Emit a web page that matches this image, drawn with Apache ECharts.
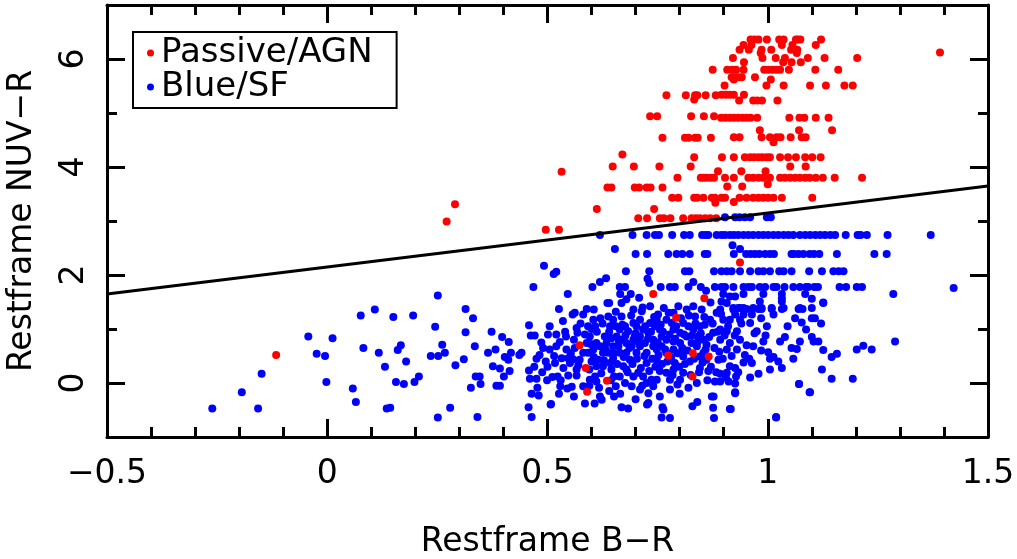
<!DOCTYPE html>
<html>
<head>
<meta charset="utf-8">
<script src="https://cdn.jsdelivr.net/npm/echarts@6/dist/echarts.min.js"></script>
<style>
  html, body { margin: 0; padding: 0; background: #fff; }
  #root { width: 1017px; height: 559px; }
</style>
</head>
<body>
<div id="root"></div>
<script>
// red points above the colour cut
const passive = [
  [0.875,5.80],[0.770,5.33],[0.814,5.33],[0.835,5.33],[0.840,5.33],[0.859,5.33],[0.882,5.33],[0.833,5.25],
  [0.733,4.94],[0.749,4.94],[0.826,4.94],[0.855,4.94],[0.878,4.94],
  [0.761,4.54],[0.812,4.54],[0.820,4.54],[0.835,4.54],[0.841,4.54],[0.871,4.54],
  [0.670,4.23],[0.833,4.18],[0.648,4.01],[0.696,4.01],[0.754,4.01],[0.825,4.01],[0.887,3.92],
  [0.532,3.91],[0.795,3.80],[0.848,3.80],[0.854,3.80],[0.861,3.80],[0.870,3.80],[0.878,3.80],
  [0.636,3.62],[0.645,3.62],[0.698,3.62],[0.708,3.62],[0.725,3.62],[0.734,3.62],[0.761,3.62],
  [0.783,3.43],[0.797,3.43],[0.833,3.43],[0.840,3.43],[0.854,3.43],[0.873,3.43],[0.880,3.43],[0.881,3.34],
  [0.290,3.31],[0.271,2.99],[0.612,3.22],[0.742,3.22],
  [0.706,3.05],[0.726,3.05],[0.755,3.05],[0.764,3.05],[0.779,3.05],[0.808,3.05],[0.827,3.05],[0.837,3.05],
  [0.846,3.05],[0.858,3.05],[0.869,3.05],[0.883,3.05],[0.496,2.84],[0.526,2.84],
  [0.961,6.36],[0.970,6.36],[0.979,6.36],[0.998,6.36],[1.026,6.36],[1.036,6.36],[1.064,6.36],[1.068,6.36],[1.074,6.36],[1.121,6.36],
  [0.945,6.26],[0.963,6.26],[1.032,6.26],[1.056,6.26],[1.109,6.26],
  [0.936,6.17],[0.957,6.17],[0.986,6.17],[1.008,6.17],[1.053,6.17],[1.067,6.17],
  [0.984,6.11],[1.066,6.11],[1.391,6.12],
  [0.921,6.02],[0.988,6.02],[1.018,6.02],[1.039,6.02],[1.091,6.02],[1.129,6.02],[1.203,6.02],
  [0.946,5.94],[1.035,5.94],[1.054,5.94],[1.075,5.94],
  [0.908,5.80],[0.919,5.80],[0.928,5.80],[0.945,5.80],[0.992,5.80],[1.001,5.80],[1.011,5.80],[1.020,5.80],
  [1.028,5.80],[1.048,5.80],[1.108,5.80],[1.160,5.80],
  [0.918,5.66],[0.926,5.66],[0.933,5.66],[0.941,5.66],[0.971,5.66],[0.923,5.62],[1.007,5.62],
  [0.902,5.51],[0.997,5.51],[1.036,5.51],[1.096,5.51],[1.132,5.51],[1.174,5.51],[1.193,5.51],
  [0.895,5.34],[0.905,5.34],[0.914,5.34],[0.923,5.34],[0.946,5.34],
  [0.935,5.23],[0.967,5.23],[0.976,5.23],[0.987,5.23],[1.022,5.23],
  [0.894,4.91],[0.904,4.91],[0.914,4.91],[0.923,4.91],[0.933,4.91],[0.943,4.91],[0.952,4.91],[0.961,4.91],
  [0.976,4.91],[1.049,4.91],[1.072,4.91],[1.083,4.91],[1.109,4.91],[1.138,4.91],
  [0.982,4.68],[1.071,4.68],[1.146,4.68],
  [0.923,4.55],[0.936,4.55],[0.986,4.55],[1.005,4.55],[1.020,4.55],[1.029,4.55],[1.052,4.55],[1.077,4.55],[1.086,4.55],[1.013,4.46],
  [0.896,4.18],[0.923,4.18],[0.948,4.18],[0.960,4.18],[0.969,4.18],[0.979,4.18],[0.988,4.18],[0.998,4.18],
  [1.005,4.18],[1.028,4.18],[1.046,4.18],[1.064,4.18],[1.085,4.18],[1.101,4.18],[1.120,4.18],
  [1.051,4.01],[1.086,4.01],[0.940,3.92],[0.995,3.92],
  [0.903,3.80],[0.923,3.80],[0.956,3.80],[0.967,3.80],[0.979,3.80],[0.990,3.80],[1.005,3.80],[1.028,3.80],
  [1.039,3.80],[1.051,3.80],[1.062,3.80],[1.073,3.80],[1.085,3.80],[1.095,3.80],[1.109,3.80],[1.125,3.80],[1.152,3.80],[1.214,3.80],
  [1.000,3.68],[0.908,3.64],[0.942,3.64],
  [0.895,3.43],[0.903,3.43],[0.936,3.43],[0.952,3.43],[0.967,3.43],[0.979,3.43],[0.990,3.43],[1.001,3.43],
  [1.013,3.43],[1.032,3.43],[1.101,3.43],[0.923,3.35],
  [0.937,2.23],[0.740,1.65],[0.856,1.57],[0.792,1.21],[0.573,0.70],[0.587,0.28],[0.590,-0.16],
  [0.635,0.04],[0.774,0.51],[0.830,0.55],[0.866,0.49],[0.829,0.12],[-0.116,0.52]
];

// blue points: quantised rows near the cut
const blueRows = [
  [0.903,3.07],[0.926,3.07],[0.936,3.07],[0.948,3.07],[0.960,3.07],[0.998,3.07],[1.007,3.07],
  [0.619,2.74],[0.693,2.74],[0.725,2.74],[0.744,2.74],[0.753,2.74],[0.783,2.74],[0.810,2.74],[0.823,2.74],
  [0.851,2.74],[0.859,2.74],[0.865,2.74],[0.884,2.74],[0.895,2.74],[0.903,2.74],[0.914,2.74],[0.923,2.74],
  [0.933,2.74],[0.945,2.74],[0.956,2.74],[0.967,2.74],[0.979,2.74],[0.990,2.74],[1.001,2.74],[1.013,2.74],
  [1.024,2.74],[1.036,2.74],[1.047,2.74],[1.058,2.74],[1.073,2.74],[1.085,2.74],[1.096,2.74],[1.108,2.74],
  [1.119,2.74],[1.130,2.74],[1.142,2.74],[1.153,2.74],[1.177,2.74],[1.204,2.74],[1.211,2.74],[1.225,2.74],
  [1.272,2.74],[1.370,2.74],
  [0.920,2.55],[0.937,2.48],[0.653,2.48],
  [0.700,2.39],[0.726,2.39],[0.774,2.39],[0.793,2.39],[0.806,2.39],[0.823,2.39],[0.857,2.39],[0.863,2.39],
  [0.923,2.39],[0.951,2.39],[0.961,2.39],[0.971,2.39],[0.981,2.39],[0.994,2.39],[1.005,2.39],[1.014,2.39],
  [1.054,2.39],[1.060,2.39],[1.070,2.39],[1.081,2.39],[1.095,2.39],[1.105,2.39],[1.117,2.39],[1.157,2.39],
  [1.242,2.39],[1.270,2.39],
  [0.492,2.17],[0.514,2.02],[0.520,2.06],
  [0.678,2.07],[0.731,2.07],[0.812,2.07],[0.822,2.07],[0.878,2.07],[0.895,2.07],[0.907,2.07],[0.918,2.07],
  [0.937,2.07],[0.960,2.07],[0.979,2.07],[0.990,2.07],[1.005,2.07],[1.026,2.07],[1.036,2.07],[1.054,2.07],
  [1.094,2.07],[1.123,2.07],[1.149,2.07],[1.161,2.07],[1.172,2.07],
  [0.633,1.94],[0.619,1.87],[0.727,1.93],[0.731,1.85],[0.831,1.87],[0.860,1.71],
  [0.468,1.78],[0.602,1.78],[0.664,1.78],[0.676,1.78],[0.757,1.78],[0.778,1.78],[0.789,1.78],[0.820,1.78],
  [0.848,1.78],[0.880,1.78],[0.895,1.78],[0.903,1.78],[0.922,1.78],[0.945,1.78],[0.956,1.78],[0.964,1.78],
  [0.982,1.78],[0.994,1.78],[1.013,1.78],[1.020,1.78],[1.038,1.78],[1.058,1.78],[1.073,1.78],[1.087,1.78],
  [1.092,1.78],[1.106,1.78],[1.114,1.78],[1.163,1.78],[1.178,1.78],[1.202,1.78],[1.214,1.78],[1.422,1.76],
  [0.546,1.65],[0.665,1.65],[0.689,1.65],[0.899,1.65],[0.945,1.65],[0.990,1.65],[1.032,1.65],[1.085,1.65],[1.285,1.65],
  [0.914,1.60],[0.926,1.60],[1.032,1.57],[1.100,1.56],[1.126,1.49],[0.679,1.55],[0.708,1.58],[0.640,1.48],
  [0.922,1.39],[0.933,1.39],[0.945,1.39],[0.967,1.39],[0.986,1.39],[1.009,1.39],[1.036,1.39],[1.073,1.39]
];

// blue points: the scattered cloud
const blueCloud = [
  [-0.261,-0.47],[-0.194,-0.17],[-0.157,-0.47],[-0.149,0.17],[-0.043,0.86],[0.012,0.83],[-0.024,0.54],[-0.005,0.50],
  [-0.002,0.02],[0.058,-0.10],[0.065,-0.35],[0.082,0.65],[0.076,1.25],[0.108,1.36],[0.117,0.56],[0.131,0.30],
  [0.135,-0.47],[0.143,-0.46],[0.150,1.22],[0.156,0.02],[0.160,0.61],[0.167,0.70],[0.174,-0.02],[0.179,0.40],
  [0.195,1.25],[0.198,0.02],[0.208,0.12],[0.235,0.50],[0.245,1.04],[0.251,1.62],[0.251,-0.64],[0.252,0.50],
  [0.261,0.71],[0.267,0.56],[0.279,-0.46],[0.291,0.33],[0.310,0.44],[0.314,1.37],[0.331,1.20],[0.314,0.94],
  [0.335,0.68],[0.341,-0.63],[0.326,-0.09],[0.337,0.12],[0.346,0.12],[0.348,-0.02],[0.365,0.56],[0.373,0.95],
  [0.376,0.31],[0.382,0.62],[0.384,-0.05],[0.392,-0.05],[0.392,0.27],[0.397,0.85],[0.403,0.48],[0.401,0.12],
  [0.412,0.76],[0.414,0.22],[0.417,0.56],[0.411,0.43],[0.436,0.52],[0.441,0.56],[0.458,1.07],[0.462,0.88],
  [0.471,0.88],[0.458,0.23],[0.460,0.08],[0.464,-0.20],[0.475,0.08],[0.480,-0.23],[0.477,-0.09],[0.486,0.75],
  [0.490,0.65],[0.496,0.40],[0.499,0.05],[0.501,0.90],[0.508,-0.39],[0.511,0.11],[0.517,0.37],[0.523,0.12],
  [0.526,1.37],[0.526,-0.20],[0.528,0.76],[0.529,-0.06],[0.532,0.46],[0.536,0.28],[0.542,0.86],[0.547,0.46],
  [0.547,0.14],[0.555,-0.07],[0.557,1.27],[0.562,1.30],[0.566,1.02],[0.568,0.93],[0.562,0.65],[0.558,0.44],
  [0.566,0.25],[0.566,0.14],[0.581,1.27],[0.589,1.37],[0.592,1.05],[0.592,0.56],[0.596,0.86],[0.600,0.40],
  [0.604,1.17],[0.605,1.36],[0.608,1.05],[0.611,0.74],[0.608,0.12],[0.611,0.03],[0.617,-0.09],[0.619,-0.25],
  [0.623,-0.31],[0.626,0.56],[0.630,0.86],[0.636,1.48],[0.638,1.23],[0.642,1.05],[0.645,0.83],[0.649,0.46],
  [0.651,0.12],[0.651,-0.25],[0.655,-0.06],[0.661,0.68],[0.664,0.99],[0.668,1.48],[0.668,1.23],[0.672,0.31],
  [0.676,0.00],[0.679,0.74],[0.683,0.96],[0.687,0.43],[0.691,-0.06],[0.695,1.11],[0.698,0.86],[0.702,0.56],
  [0.706,0.19],[0.710,-0.12],[0.714,1.33],[0.717,0.99],[0.721,0.74],[0.725,0.37],[0.729,-0.19],[0.729,-0.37],
  [0.733,1.42],[0.736,0.06],[0.740,0.68],[0.744,1.05],[0.748,0.43],[0.751,1.27],[0.755,0.22],[0.759,0.86],
  [0.763,-0.49],[0.764,1.39],[0.770,0.56],[0.778,0.06],[0.778,-0.65],[0.782,1.11],[0.786,0.77],[0.789,0.37],
  [0.795,-0.03],[0.797,1.42],[0.801,0.93],[0.805,0.56],[0.808,0.19],[0.816,1.36],[0.820,-0.09],[0.820,1.05],
  [0.823,0.40],[0.827,0.74],[0.829,-0.43],[0.835,1.23],[0.839,0.00],[0.842,0.86],[0.846,0.28],[0.850,1.36],
  [0.854,0.56],[0.857,1.08],[0.861,0.71],[0.865,0.22],[0.870,1.49],[0.873,-0.25],[0.876,0.93],[0.878,-0.65],
  [0.880,0.03],[0.884,1.30],[0.888,0.43],[0.876,-0.46],
  [0.482,0.52],[0.505,0.62],[0.520,0.68],[0.543,0.62],[0.551,0.37],[0.573,0.43],[0.581,0.56],[0.589,0.74],
  [0.604,0.62],[0.615,0.43],[0.619,0.68],[0.634,0.74],[0.638,0.56],[0.642,0.37],[0.657,0.86],[0.664,0.56],
  [0.668,0.80],[0.679,0.56],[0.691,0.68],[0.695,0.80],[0.710,0.68],[0.710,0.86],[0.725,0.56],[0.729,0.93],
  [0.740,0.80],[0.748,0.62],[0.755,0.99],[0.759,0.68],[0.770,0.80],[0.786,0.62],[0.786,0.99],[0.801,0.74],
  [0.808,0.49],[0.816,0.86],[0.831,0.99],[0.839,0.68],[0.846,0.49],[0.854,0.80],[0.861,0.43],[0.869,1.17],
  [0.664,0.12],[0.679,0.25],[0.695,0.12],[0.717,0.12],[0.725,0.00],[0.748,0.06],[0.770,0.19],[0.786,0.25],
  [0.801,0.06],[0.740,-0.06],[0.778,-0.12],[0.596,0.06],[0.581,-0.06],[0.645,0.25],[0.626,0.31],[0.611,0.31],
  [0.649,1.17],[0.695,1.36],[0.710,1.17],[0.748,1.17],[0.786,1.30],[0.831,1.42],[0.649,0.68],[0.676,1.05],
  [0.702,1.05],[0.733,1.11],[0.770,1.17],[0.808,1.11],[0.846,1.05],
  [0.457,-0.45],[0.464,-0.63],[0.507,-0.40],[0.585,-0.38],[0.607,-0.38],[0.668,-0.45],[0.683,-0.47],[0.726,-0.40],
  [0.761,-0.45],[0.759,-0.64],[0.914,-0.48],[0.877,-0.25],[0.926,-0.19],[1.019,-0.64],[1.071,-0.02],[1.096,-0.17],
  [0.895,1.51],[0.907,1.48],[0.982,1.51],[1.032,1.51],[1.126,1.48],[0.892,1.36],[0.922,1.36],[0.937,1.39],
  [0.952,1.37],[0.979,1.37],[0.986,1.37],[1.009,1.37],[1.032,1.37],[1.070,1.37],[1.079,1.37],[1.100,1.39],
  [0.926,1.27],[0.945,1.27],[0.964,1.27],[1.013,1.27],[1.062,1.20],[1.100,1.20],[1.107,1.20],[1.077,1.12],
  [1.121,1.10],[0.899,1.17],[0.914,1.17],[0.937,1.17],[0.960,1.11],[0.975,0.96],[0.998,1.05],[1.087,0.99],
  [1.100,0.85],[0.892,0.99],[0.907,0.96],[0.930,0.96],[1.039,0.85],[1.028,0.77],[1.073,0.77],[1.104,0.77],
  [1.115,0.77],[1.289,0.77],[0.892,0.80],[0.914,0.74],[0.937,0.80],[0.990,0.77],[1.202,0.62],[1.217,0.69],
  [1.236,0.62],[0.967,0.68],[0.907,0.62],[0.930,0.62],[1.001,0.57],[1.054,0.65],[1.066,0.63],[1.126,0.61],
  [1.157,0.54],[1.145,0.48],[0.948,0.52],[1.013,0.48],[1.005,0.45],[1.024,0.40],[0.945,0.38],[0.964,0.37],
  [1.032,0.28],[0.914,0.31],[0.926,0.28],[1.005,0.25],[1.123,0.25],[0.979,0.17],[0.907,0.19],[0.892,0.17],
  [0.928,0.12],[1.145,0.08],[1.193,0.08],[0.892,0.03],[0.911,0.03],[0.926,-0.01],[1.071,-0.02],[0.926,-0.17],
  [1.095,-0.17],[0.916,-0.48],[1.019,-0.63],
  [0.470,0.30],[0.488,0.20],[0.515,0.50],[0.530,0.05],[0.540,0.95],[0.553,0.55],[0.560,0.80],[0.570,0.33],
  [0.575,1.10],[0.585,0.90],[0.595,0.25],[0.598,0.72],[0.605,0.48],[0.612,0.95],[0.620,1.20],[0.622,0.18],
  [0.628,0.42],[0.632,0.62],[0.640,0.95],[0.644,0.05],[0.650,0.55],[0.655,1.32],[0.658,0.35],[0.662,0.78],
  [0.670,1.08],[0.673,0.48],[0.677,0.88],[0.682,0.20],[0.686,0.65],[0.690,1.25],[0.693,0.35],[0.700,0.92],
  [0.703,0.45],[0.707,0.75],[0.712,0.28],[0.716,1.40],[0.720,0.50],[0.722,1.05],[0.728,0.82],[0.731,0.22],
  [0.735,0.95],[0.738,0.45],[0.742,1.22],[0.745,0.30],[0.750,0.75],[0.752,0.52],[0.757,1.08],[0.760,0.35],
  [0.762,0.95],[0.767,0.62],[0.772,0.40],[0.775,1.30],[0.777,0.90],[0.781,0.48],[0.784,0.15],[0.790,0.82],
  [0.792,1.05],[0.796,0.55],[0.799,0.30],[0.803,1.20],[0.806,0.65],[0.810,0.90],[0.812,0.35],[0.818,0.60],
  [0.821,1.25],[0.825,0.15],[0.828,0.88],[0.833,0.45],[0.836,1.10],[0.840,0.75],[0.844,0.20],[0.848,0.92],
  [0.852,0.38],[0.856,1.22],[0.859,0.62],[0.863,0.05],[0.867,0.85],[0.871,0.30],[0.875,1.10],[0.879,0.65],
  [0.883,0.20],[0.886,0.95],[0.890,0.58],[0.894,1.28],[0.898,0.45],[0.902,0.88],[0.905,0.10],[0.910,1.05],
  [0.918,0.50],[0.925,0.88],[0.933,0.20],[0.940,1.10],[0.952,0.70],[0.958,0.45],[0.970,0.92],[0.985,0.60],
  [0.995,0.88],[0.960,0.10],[0.985,1.20],[1.045,1.05],[1.058,0.45],[0.640,-0.15],[0.665,-0.20],[0.700,-0.30],
  [0.715,-0.05],[0.755,-0.25],[0.800,-0.20],[0.840,-0.35],[0.560,-0.25],[0.545,-0.10],[0.595,-0.05],[0.500,0.30],
  [0.475,0.45],[0.520,0.90],[0.505,1.05],[0.535,1.15],[0.600,1.00],[0.625,1.10],[0.655,1.05]
];

const blueSF = blueRows.concat(blueCloud);

// dividing line NUV-R = (B-R) + 2.15
const cutX = [-0.5, 1.5];
const cutY = [1.65, 3.65];

const xTicks = [-0.5, 0, 0.5, 1, 1.5];
const yTicks = [0, 2, 4, 6];

const font = 'DejaVu Sans';
const minus = v => String(v).replace('-', '\u2212');
const black = { color: '#000', width: 3 };

function xFrame(pos, withLabels) {
  return {
    type: 'value', min: -0.5, max: 1.5, interval: 0.5, position: pos,
    axisLine: { show: true, onZero: false, lineStyle: black },
    axisTick: { show: true, inside: true, length: 18, lineStyle: black },
    minorTick: { show: true, splitNumber: 5, length: 10, lineStyle: black },
    splitLine: { show: false },
    axisLabel: withLabels ? {
      fontFamily: font, fontSize: 33, color: '#000', margin: 21,
      formatter: v => xTicks.includes(v) ? minus(v) : ''
    } : { show: false }
  };
}

// long ticks + labels at even values
function yMajor(pos, withLabels) {
  return {
    type: 'value', min: -1, max: 7, interval: 1, position: pos,
    axisLine: { show: true, onZero: false, lineStyle: black },
    axisTick: { show: true, inside: true, length: 18, lineStyle: black, customValues: yTicks },
    minorTick: { show: false },
    splitLine: { show: false },
    axisLabel: withLabels ? {
      fontFamily: font, fontSize: 33, color: '#000', margin: 16, rotate: 90,
      customValues: yTicks, formatter: v => minus(v)
    } : { show: false }
  };
}
// short ticks at every unit
function yMinor(pos) {
  return {
    type: 'value', min: -1, max: 7, interval: 1, position: pos,
    axisLine: { show: false, onZero: false },
    axisTick: { show: true, inside: true, length: 10, lineStyle: black },
    minorTick: { show: false },
    splitLine: { show: false },
    axisLabel: { show: false }
  };
}

const yLeft = yMajor('left', true);
yLeft.name = 'Restframe NUV\u2212R';
yLeft.nameLocation = 'middle';
yLeft.nameGap = 68;
yLeft.nameRotate = 90;
yLeft.nameTextStyle = { fontFamily: font, fontSize: 33, color: '#000' };

const xBottom = xFrame('bottom', true);
xBottom.name = 'Restframe B\u2212R';
xBottom.nameLocation = 'middle';
xBottom.nameGap = 89;
xBottom.nameTextStyle = { fontFamily: font, fontSize: 33, color: '#000' };

let chart = echarts.init(document.getElementById('root'), null, { renderer: 'canvas' });
chart.setOption({
  backgroundColor: '#fff',
  animation: false,
  grid: { left: 107, right: 29, top: 5, bottom: 122, outerBoundsMode: 'none', containLabel: false },
  legend: {
    orient: 'vertical', left: 133, top: 32,
    borderColor: '#000', borderWidth: 2, borderRadius: 0,
    padding: [4, 24, 4, 14], itemGap: 0,
    itemWidth: 7, itemHeight: 7, icon: 'circle',
    textStyle: { fontFamily: font, fontSize: 34, color: '#000', padding: [0, 0, 0, 2] },
    data: ['Passive/AGN', 'Blue/SF']
  },
  xAxis: [xBottom, xFrame('top', false)],
  yAxis: [yLeft, yMinor('left'), yMajor('right', false), yMinor('right')],
  series: [
    {
      name: 'Passive/AGN', type: 'scatter', xAxisIndex: 0, yAxisIndex: 0,
      symbol: 'circle', symbolSize: 8, itemStyle: { color: '#ff0000', opacity: 1 },
      data: passive, z: 3
    },
    {
      name: 'Blue/SF', type: 'scatter', xAxisIndex: 0, yAxisIndex: 0,
      symbol: 'circle', symbolSize: 8, itemStyle: { color: '#0000ff', opacity: 1 },
      data: blueSF, z: 2
    },
    {
      name: 'cut', type: 'line', xAxisIndex: 0, yAxisIndex: 0,
      data: cutX.map((x, i) => [x, cutY[i]]),
      showSymbol: false, lineStyle: { color: '#000', width: 3 }, z: 4
    }
  ]
});
</script>
</body>
</html>
